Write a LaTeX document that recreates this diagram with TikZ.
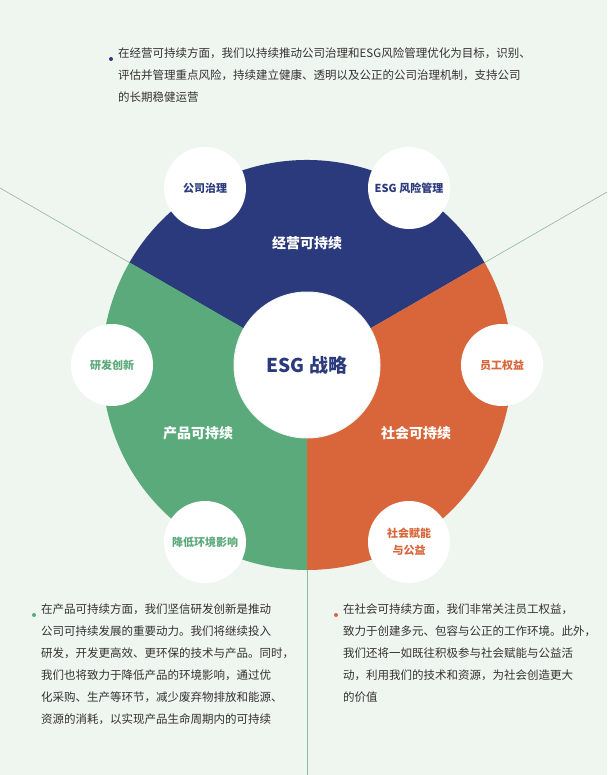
\documentclass[tikz,border=0pt]{standalone}
\usepackage{fontspec}
\setmainfont{Noto Sans CJK SC}
\begin{document}
\begin{tikzpicture}[x=1pt,y=-1pt,
  sm/.style={circle,fill=white,draw=white,line width=2pt,minimum size=80pt,inner sep=0pt,align=center,font=\fontsize{11}{17}\selectfont\bfseries},
  sec/.style={font=\fontsize{14}{16}\selectfont\bfseries,text=white},
  para/.style={anchor=north west,align=left,font=\fontsize{11.5}{22}\selectfont,text=txt,inner sep=0pt},
  dot/.style={circle,inner sep=0pt,minimum size=4pt}]
\definecolor{bgc}{HTML}{EFF5EF}
\definecolor{cb}{HTML}{2B3A7C}
\definecolor{cg}{HTML}{5BAA7B}
\definecolor{co}{HTML}{D8663A}
\definecolor{txt}{HTML}{333333}
\definecolor{ln}{HTML}{8FB8A0}
\fill[bgc] (0,0) rectangle (607,775);
\useasboundingbox (0,0) rectangle (607,775);
\coordinate (c) at (307,365);
\coordinate (l1) at (0,188);
\coordinate (l2) at (607,192);
\coordinate (l3) at (307,775);
\draw[ln,line width=0.6pt] (c) -- (l1);
\draw[ln,line width=0.6pt] (c) -- (l2);
\draw[ln,line width=0.6pt] (c) -- (l3);
\fill[cb] (c) -- (484.5,262.5) arc[start angle=-30,end angle=-150,radius=205] -- cycle;
\fill[cg] (c) -- (129.5,262.5) arc[start angle=-150,end angle=-270,radius=205] -- cycle;
\fill[co] (c) -- (307,570) arc[start angle=90,end angle=-30,radius=205] -- cycle;
\node[circle,fill=white,draw=bgc,line width=1pt,minimum size=146pt,font=\fontsize{19}{20}\selectfont\bfseries,text=cb] (core) at (c) {ESG 战略};
\node[sm,text=cb] (a) at (205,188) {公司治理};
\node[sm,text=cb] (b) at (409,188) {ESG 风险管理};
\node[sm,text=cg] (d) at (112,365) {研发创新};
\node[sm,text=co] (e) at (502,365) {员工权益};
\node[sm,text=cg] (f) at (205,542) {降低环境影响};
\node[sm,text=co] (g) at (409,542) {社会赋能\\与公益};
\node[sec] (s1) at (307,243) {经营可持续};
\node[sec] (s2) at (198,433) {产品可持续};
\node[sec] (s3) at (416,433) {社会可持续};
\node[dot,fill=cb] (d1) at (111,59) {};
\node[para] (p1) at (118,48) {在经营可持续方面，我们以持续推动公司治理和ESG风险管理优化为目标，识别、\\评估并管理重点风险，持续建立健康、透明以及公正的公司治理机制，支持公司\\的长期稳健运营};
\node[dot,fill=cg] (d2) at (34,615) {};
\node[para] (p2) at (41,604) {在产品可持续方面，我们坚信研发创新是推动\\公司可持续发展的重要动力。我们将继续投入\\研发，开发更高效、更环保的技术与产品。同时，\\我们也将致力于降低产品的环境影响，通过优\\化采购、生产等环节，减少废弃物排放和能源、\\资源的消耗，以实现产品生命周期内的可持续};
\node[dot,fill=co] (d3) at (336,615) {};
\node[para] (p3) at (343,604) {在社会可持续方面，我们非常关注员工权益，\\致力于创建多元、包容与公正的工作环境。此外，\\我们还将一如既往积极参与社会赋能与公益活\\动，利用我们的技术和资源，为社会创造更大\\的价值};
\end{tikzpicture}
\end{document}
